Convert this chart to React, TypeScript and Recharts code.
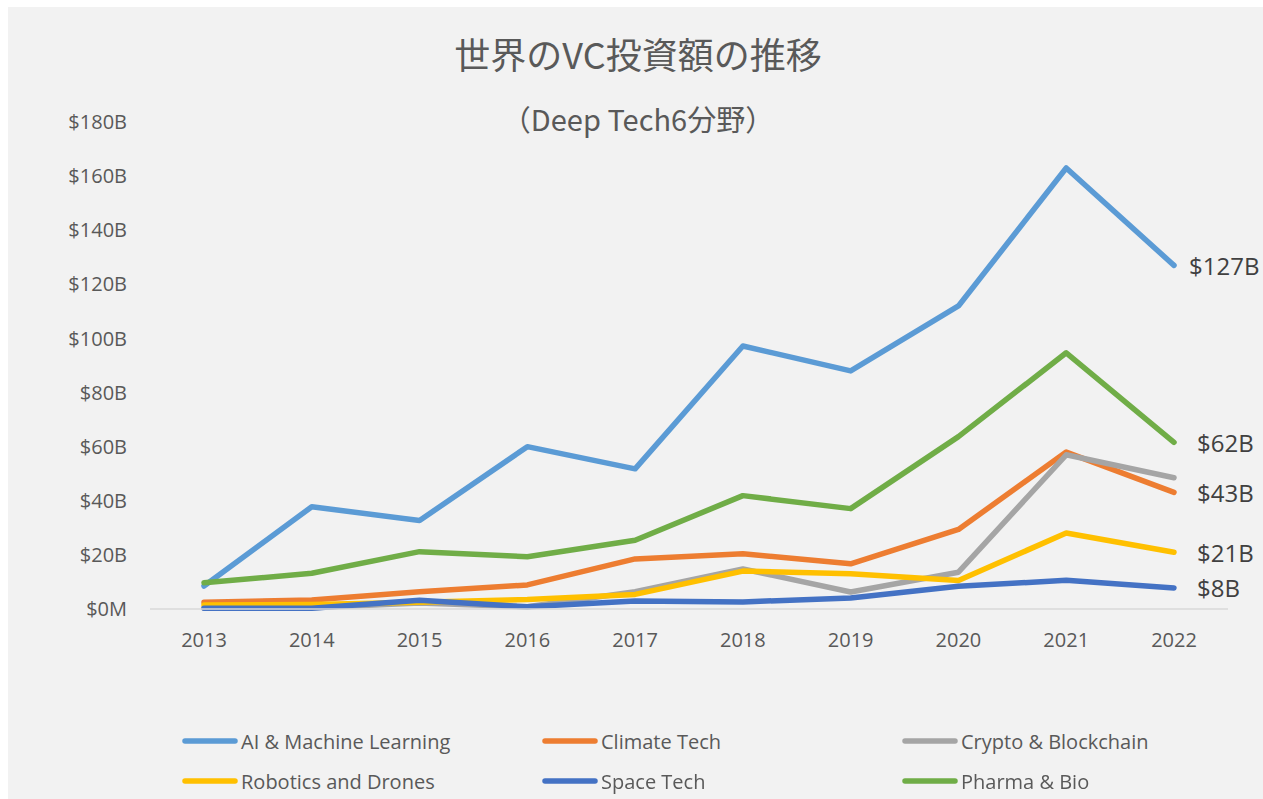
import React from 'react';
import { LineChart, Line, XAxis, YAxis, Legend, LabelList } from 'recharts';

// ---- data ----
const years = ['2013', '2014', '2015', '2016', '2017', '2018', '2019', '2020', '2021', '2022'];
const aiML = [8.5, 37.8, 32.7, 60, 51.8, 97.2, 88, 112, 163, 127];
const climateTech = [2.5, 3.3, 6.4, 8.9, 18.5, 20.4, 16.7, 29.4, 58, 43.1];
const cryptoBlockchain = [0.3, 0.5, 2.2, 0.8, 6.4, 14.8, 6.3, 13.6, 57, 48.5];
const roboticsDrones = [1.5, 1.7, 2.5, 3.5, 5.4, 14, 13, 10.5, 28.1, 21];
const spaceTech = [0.3, 0.3, 3.2, 0.8, 3.0, 2.6, 4.1, 8.4, 10.6, 7.8];
const pharmaBio = [9.7, 13.2, 21.2, 19.3, 25.4, 41.9, 37.1, 63.7, 94.7, 61.6];
const yTicks = [0, 20, 40, 60, 80, 100, 120, 140, 160, 180];
const titleText = '世界のVC投資額の推移';
const subtitleText = '（Deep Tech6分野）';

const data = years.map((year, i) => ({
  year,
  ai: aiML[i],
  climate: climateTech[i],
  crypto: cryptoBlockchain[i],
  robotics: roboticsDrones[i],
  space: spaceTech[i],
  pharma: pharmaBio[i],
}));

const series = [
  { key: 'ai', name: 'AI & Machine Learning', color: '#5B9BD5', label: true, dx: 15 },
  { key: 'climate', name: 'Climate Tech', color: '#ED7D31', label: true, dx: 23 },
  { key: 'crypto', name: 'Crypto & Blockchain', color: '#A5A5A5', label: false, dx: 23 },
  { key: 'robotics', name: 'Robotics and Drones', color: '#FFC000', label: true, dx: 23 },
  { key: 'space', name: 'Space Tech', color: '#4472C4', label: true, dx: 23 },
  { key: 'pharma', name: 'Pharma & Bio', color: '#70AD47', label: true, dx: 23 },
];

const W = 1255;
const H = 792;
const FONT = "'Open Sans', 'Noto Sans', sans-serif";
const CJK = "'Noto Sans CJK JP', 'Noto Sans', sans-serif";

const fmtY = (v: number) => (v === 0 ? '$0M' : `$${v}B`);

const makeEndLabel = (dx: number) => (props: any) => {
  const { x, y, value, index } = props;
  if (index !== years.length - 1) return null;
  return (
    <text
      x={Number(x) + dx}
      y={Number(y)}
      dominantBaseline="central"
      fontSize={24}
      fill="#404040"
      fontFamily={FONT}
    >
      {`$${Math.round(Number(value))}B`}
    </text>
  );
};

const renderLegend = () => (
  <div style={{ position: 'relative', width: W, height: 80 }}>
    {series.map((s, i) => {
      const col = i % 3;
      const row = Math.floor(i / 3);
      return (
        <div
          key={s.key}
          style={{
            position: 'absolute',
            left: 174 + col * 360,
            top: row * 40,
            height: 40,
            display: 'flex',
            alignItems: 'center',
            whiteSpace: 'nowrap',
          }}
        >
          <svg width={56} height={10} style={{ display: 'block' }}>
            <line x1={3} y1={5} x2={53} y2={5} stroke={s.color} strokeWidth={5.5} strokeLinecap="round" />
          </svg>
          <span style={{ fontFamily: FONT, fontSize: 20, color: '#595959', marginLeft: 3 }}>{s.name}</span>
        </div>
      );
    })}
  </div>
);

export default function App() {
  return (
    <div style={{ position: 'fixed', left: 8, top: 7, width: W, height: H, background: '#F2F2F2', overflow: 'visible' }}>
      <svg width={W} height={140} style={{ position: 'absolute', left: 0, top: 0 }}>
        <text x={630} y={62} textAnchor="middle" fontSize={36} fill="#595959" fontFamily={CJK}>
          {titleText}
        </text>
        <text x={630} y={124} textAnchor="middle" fontSize={29} fill="#595959" fontFamily={CJK}>
          {subtitleText}
        </text>
      </svg>
      <LineChart
        width={W}
        height={H}
        data={data}
        margin={{ top: 115, right: 35, bottom: 160, left: 0 }}
        style={{ overflow: 'visible' }}
      >
        <XAxis
          dataKey="year"
          padding={{ left: 54, right: 54 }}
          axisLine={{ stroke: '#D9D9D9', strokeWidth: 1.5 }}
          tickLine={false}
          tickSize={0}
          tickMargin={24}
          height={30}
          tick={{ fontSize: 20, fill: '#595959', fontFamily: FONT }}
          interval={0}
        />
        <YAxis
          domain={[0, 180]}
          ticks={yTicks}
          tickFormatter={fmtY}
          width={142}
          axisLine={false}
          tickLine={false}
          tickSize={0}
          tickMargin={23}
          tick={{ fontSize: 20, fill: '#595959', fontFamily: FONT }}
          interval={0}
        />
        <Legend
          layout="horizontal"
          verticalAlign="middle"
          content={renderLegend}
          wrapperStyle={{ position: 'absolute', left: 0, top: 714, width: W, height: 80 }}
        />
        {series.map((s) => (
          <Line
            key={s.key}
            type="linear"
            dataKey={s.key}
            name={s.name}
            stroke={s.color}
            strokeWidth={5.5}
            strokeLinecap="round"
            strokeLinejoin="round"
            dot={false}
            activeDot={false}
            isAnimationActive={false}
          >
            {s.label ? <LabelList dataKey={s.key} content={makeEndLabel(s.dx)} /> : null}
          </Line>
        ))}
      </LineChart>
    </div>
  );
}
